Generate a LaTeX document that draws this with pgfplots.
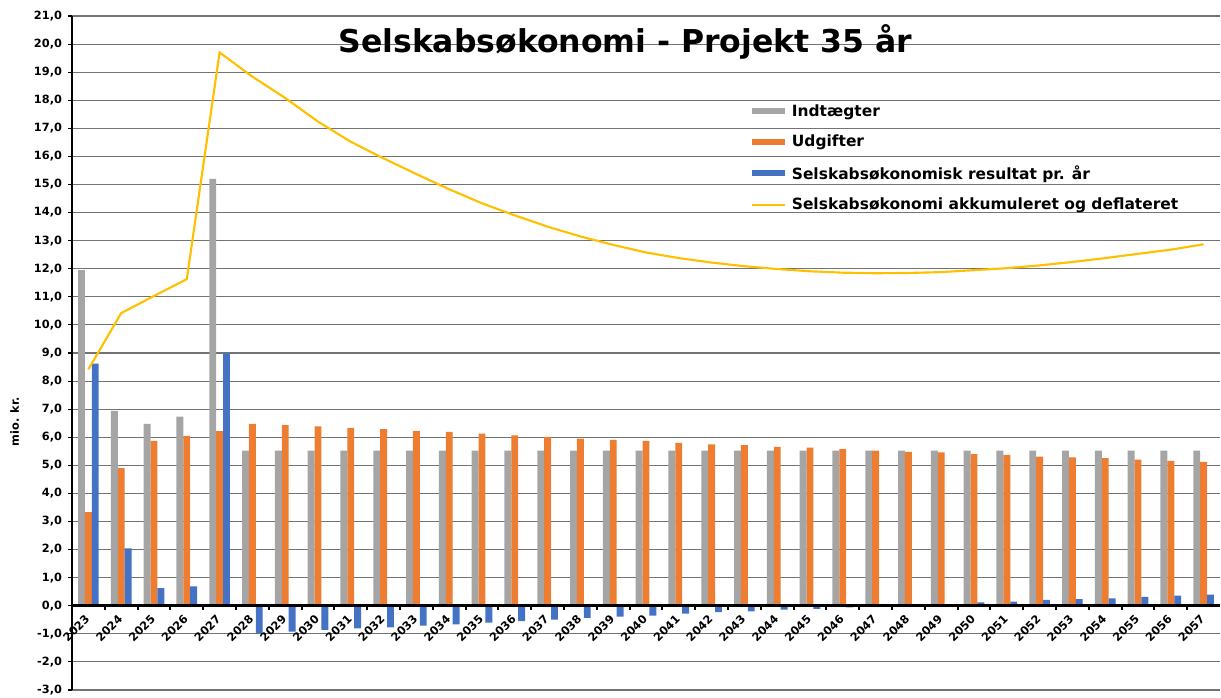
\documentclass[border=0pt]{standalone}
\usepackage{fontspec}
\setmainfont{DejaVu Sans}
\usepackage{pgfplots}
\usepackage{pgfplotstable}
\pgfplotsset{compat=1.18}
\definecolor{cgray}{HTML}{A5A5A5}
\definecolor{corange}{HTML}{ED7D31}
\definecolor{cblue}{HTML}{4472C4}
\definecolor{cyellow}{HTML}{FFC000}

\pgfplotstableread{
x ind udg res akk
0 11.95 3.33 8.62 8.42
1 6.94 4.90 2.04 10.42
2 6.48 5.87 0.63 11.03
3 6.73 6.05 0.69 11.63
4 15.20 6.22 8.99 19.70
5 5.52 6.48 -0.97 18.84
6 5.52 6.43 -0.92 18.08
7 5.52 6.39 -0.86 17.24
8 5.52 6.33 -0.81 16.52
9 5.52 6.29 -0.77 15.93
10 5.52 6.23 -0.71 15.37
11 5.52 6.19 -0.66 14.83
12 5.52 6.13 -0.60 14.33
13 5.52 6.07 -0.55 13.90
14 5.52 6.01 -0.49 13.50
15 5.52 5.95 -0.43 13.15
16 5.52 5.91 -0.39 12.85
17 5.52 5.87 -0.35 12.58
18 5.52 5.80 -0.28 12.38
19 5.52 5.75 -0.23 12.22
20 5.52 5.72 -0.20 12.09
21 5.52 5.66 -0.14 11.99
22 5.52 5.63 -0.11 11.91
23 5.52 5.58 -0.06 11.86
24 5.52 5.52 0.00 11.84
25 5.52 5.48 0.04 11.85
26 5.52 5.46 0.06 11.88
27 5.52 5.40 0.12 11.95
28 5.52 5.37 0.15 12.02
29 5.52 5.31 0.21 12.12
30 5.52 5.28 0.24 12.24
31 5.52 5.26 0.26 12.38
32 5.52 5.20 0.32 12.53
33 5.52 5.16 0.36 12.68
34 5.52 5.12 0.40 12.87
}\datatable

\begin{document}
\begin{tikzpicture}
\useasboundingbox (0,0) rectangle (915.75pt,522.75pt);
\begin{axis}[
  at={(54pt,5.25pt)}, anchor=south west,
  scale only axis, width=861pt, height=505.5pt,
  xmin=-0.5, xmax=34.5, ymin=-3, ymax=21,
  axis x line=middle, axis y line=left,
  axis line style={-},
  x axis line style={line width=2.5pt, black},
  y axis line style={line width=0.8pt, black},
  ytick={-3,-2,...,21},
  xtick={0,1,...,34},
  xticklabels={2023,2024,2025,2026,2027,2028,2029,2030,2031,2032,2033,2034,2035,2036,2037,2038,2039,2040,2041,2042,2043,2044,2045,2046,2047,2048,2049,2050,2051,2052,2053,2054,2055,2056,2057},
  minor x tick num=1,
  tick align=outside,
  major x tick style={draw=none},
  minor x tick style={black, line width=1.5pt},
  minor tick length=3pt,
  major y tick style={black, line width=0.8pt},
  major tick length=3pt,
  ymajorgrids,
  major y grid style={black!55, line width=0.8pt},
  yticklabel style={/pgf/number format/fixed, /pgf/number format/fixed zerofill,
    /pgf/number format/precision=1, /pgf/number format/use comma,
    /pgf/number format/assume math mode=true,
    font=\fontsize{8.5}{10}\selectfont\bfseries, xshift=-1pt},
  ylabel={mio. kr.},
  ylabel style={at={(axis description cs:-0.05,0.398)}, anchor=center, font=\fontsize{8.5}{10}\selectfont\bfseries},
  title={Selskabsøkonomi - Projekt 35 år},
  title style={at={(axis description cs:0.482,0.95)}, anchor=center, font=\fontsize{23.6}{28}\selectfont\bfseries},
  ybar, bar width=0.21,
  legend style={at={(axis description cs:0.591,0.873)}, anchor=north west, draw=none, fill=none,
    font=\fontsize{11.6}{14}\selectfont\bfseries, row sep=8.5pt, inner sep=0pt,
    nodes={inner xsep=4.5pt}},
  legend cell align=left,
  every x tick label/.append style={font=\fontsize{8.5}{10}\selectfont\bfseries, rotate=45, anchor=north east, xshift=-1pt, yshift=3.3pt},
]
\addplot[fill=cgray, draw=none, bar shift=-0.21,
  legend image code/.code={\fill[cgray] (0pt,-2.25pt) rectangle (24.75pt,2.25pt);}] table[x=x,y=ind]{\datatable};
\addlegendentry{Indtægter}
\addplot[fill=corange, draw=none, bar shift=0,
  legend image code/.code={\fill[corange] (0pt,-2.25pt) rectangle (24.75pt,2.25pt);}] table[x=x,y=udg]{\datatable};
\addlegendentry{Udgifter}
\addplot[fill=cblue, draw=none, bar shift=0.21,
  legend image code/.code={\fill[cblue] (0pt,-2.25pt) rectangle (24.75pt,2.25pt);}] table[x=x,y=res]{\datatable};
\addlegendentry{Selskabsøkonomisk resultat pr. år}
\addplot[sharp plot, cyellow, line width=1.6pt, mark=none,
  legend image code/.code={\draw[cyellow, line width=1.6pt] (0pt,0pt) -- (24.75pt,0pt);}] table[x=x,y=akk]{\datatable};
\addlegendentry{Selskabsøkonomi akkumuleret og deflateret}
\draw[line width=2.5pt, black] (axis cs:-0.5,0) -- (axis cs:34.5,0);
\end{axis}
\end{tikzpicture}
\end{document}
